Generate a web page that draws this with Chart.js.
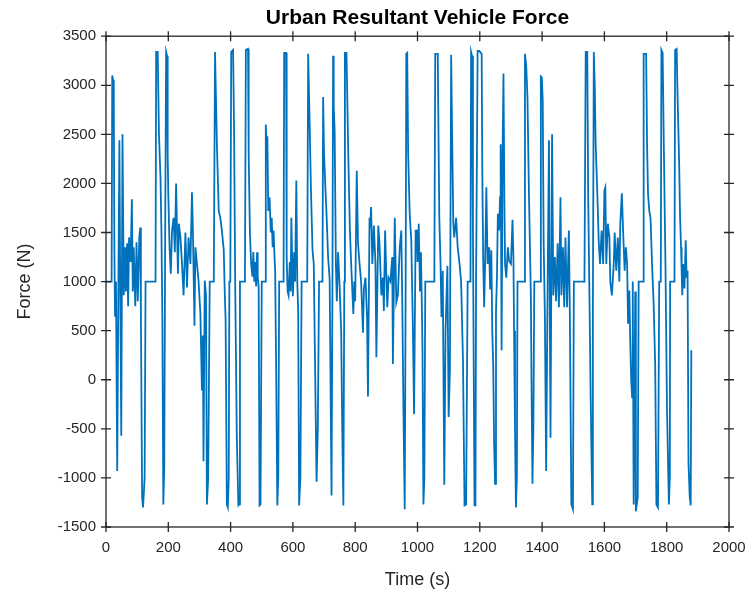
<!DOCTYPE html>
<html>
<head>
<meta charset="utf-8">
<script src="https://cdn.jsdelivr.net/npm/chart.js@4.4.1/dist/chart.umd.min.js"></script>
<style>
  html, body { margin: 0; padding: 0; background: #ffffff; }
  #wrap { width: 753px; height: 598px; }
</style>
</head>
<body>
<div id="wrap"><canvas id="forceChart" width="753" height="598"></canvas></div>
<script>
const timeValues = [
  0, 18, 20, 23, 25, 27, 29, 32, 36, 39, 43, 46, 49, 53, 57, 61, 64, 68, 71, 74,
  79, 83, 86, 89, 94, 98, 102, 107, 110, 112, 116, 119, 124, 127, 159, 161, 166, 170, 175, 178,
  181, 184, 187, 190, 193, 196, 198, 200, 204, 208, 212, 217, 221, 225, 228, 231, 234, 239, 244, 249,
  255, 260, 265, 271, 276, 279, 284, 287, 292, 297, 303, 308, 311, 313, 317, 321, 324, 328, 333, 346,
  350, 353, 356, 362, 367, 372, 378, 381, 384, 388, 391, 394, 396, 399, 402, 408, 411, 415, 420, 425,
  428, 430, 446, 449, 456, 458, 462, 466, 470, 473, 476, 479, 482, 485, 487, 490, 493, 496, 500, 511,
  513, 516, 518, 521, 525, 529, 532, 535, 538, 541, 543, 546, 550, 553, 556, 570, 572, 578, 580, 583,
  586, 590, 593, 595, 600, 604, 607, 611, 614, 617, 620, 624, 628, 646, 649, 654, 658, 663, 667, 671,
  676, 680, 684, 695, 697, 700, 705, 708, 713, 718, 724, 727, 729, 731, 734, 738, 741, 745, 750, 755,
  758, 762, 765, 767, 772, 778, 783, 788, 794, 797, 800, 805, 809, 814, 819, 825, 828, 833, 838, 841,
  846, 848, 851, 855, 860, 865, 868, 874, 878, 884, 889, 892, 896, 900, 903, 907, 913, 919, 921, 927,
  932, 937, 943, 948, 951, 955, 959, 962, 964, 967, 970, 975, 980, 985, 989, 994, 998, 1000, 1004, 1008,
  1011, 1014, 1016, 1019, 1022, 1025, 1054, 1057, 1065, 1068, 1070, 1074, 1077, 1081, 1086, 1090, 1096, 1100, 1104, 1108,
  1111, 1115, 1118, 1124, 1129, 1135, 1140, 1146, 1151, 1156, 1161, 1170, 1172, 1175, 1178, 1183, 1186, 1188, 1191, 1193,
  1198, 1206, 1208, 1211, 1214, 1217, 1221, 1225, 1230, 1233, 1237, 1240, 1243, 1246, 1249, 1252, 1255, 1258, 1262, 1265,
  1267, 1270, 1273, 1276, 1279, 1281, 1285, 1290, 1294, 1300, 1305, 1308, 1310, 1313, 1316, 1319, 1321, 1342, 1345, 1349,
  1353, 1358, 1364, 1366, 1369, 1372, 1375, 1394, 1396, 1399, 1402, 1405, 1409, 1413, 1417, 1422, 1425, 1427, 1432, 1436,
  1441, 1445, 1450, 1454, 1459, 1462, 1467, 1471, 1475, 1480, 1486, 1489, 1494, 1499, 1502, 1536, 1540, 1545, 1548, 1553,
  1556, 1561, 1563, 1566, 1569, 1572, 1577, 1582, 1586, 1591, 1596, 1600, 1603, 1606, 1611, 1616, 1619, 1624, 1630, 1633,
  1638, 1643, 1648, 1651, 1656, 1660, 1665, 1669, 1673, 1676, 1680, 1683, 1686, 1689, 1691, 1694, 1699, 1701, 1707, 1710,
  1724, 1726, 1734, 1737, 1740, 1744, 1748, 1753, 1758, 1763, 1767, 1772, 1776, 1781, 1783, 1787, 1791, 1796, 1801, 1807,
  1810, 1811, 1825, 1827, 1832, 1835, 1840, 1843, 1846, 1848, 1850, 1853, 1857, 1861, 1864, 1867, 1870, 1874, 1877, 1879
];

const forceValues = [
  1000, 1000, 3100, 3050, 2850, 1300, 650, 1000, -930, 600, 2440, 800, -570, 2500, 860, 1350, 900, 1390, 750, 1450,
  1200, 1840, 900, 1350, 750, 1400, 800, 1450, 1550, 680, -1200, -1300, -1000, 1000, 1000, 3340, 3340, 2500, 2050, 1500,
  600, -1270, -900, 1500, 3340, 3300, 2300, 1900, 1350, 1080, 1520, 1650, 1300, 2000, 1520, 1080, 1590, 1450, 1180, 860,
  1500, 940, 1450, 1180, 1910, 1520, 550, 1350, 1180, 1010, 680, -110, 450, -830, 1010, 860, -1270, -1000, 1000, 1000,
  3340, 3340, 2400, 1720, 1650, 1520, 1320, 920, 600, -1270, -1300, -1000, 1000, 1000, 3340, 3360, 2600, 900, -600, -1280,
  -1270, 1000, 1000, 3360, 3370, 2300, 1500, 1180, 1050, 1300, 1000, 1200, 950, 1300, 1050, 950, -1280, -1270, 1000, 1000,
  2600, 2300, 2480, 1720, 1860, 1500, 1650, 1350, 1520, 1250, 1110, 200, -1280, -1000, 1000, 1000, 3330, 3330, 1250, 900,
  860, 1200, 900, 1650, 850, 1300, 1000, 2030, 1000, 700, -1280, -1000, 1000, 1000, 3320, 2570, 1930, 1320, 1180, 200,
  -1040, -500, 1000, 1000, 2880, 2300, 1900, 1690, 1250, 1020, -1180, 1000, 3300, 2800, 2540, 1180, 800, 1300, 950, 500,
  -400, -1280, 1000, 3330, 3330, 2260, 1520, 1110, 670, 1000, 800, 2130, 1390, 1180, 1000, 480, 930, 1040, 640, -170,
  1650, 1550, 1760, 1180, 1570, 1180, 230, 1570, 1390, 860, 1040, 700, 1520, 1040, 740, 1040, 1000, 1250, 160, 1650,
  790, 860, 1350, 1520, 830, -350, -1320, 1000, 3320, 3330, 2300, 1690, 1420, 570, -350, 1520, 1520, 1200, 1590, 900,
  1300, 750, 300, -1270, -1000, 1000, 1000, 3320, 3320, 2300, 1650, 1180, 640, 1110, -1070, 500, 1160, -380, 100, 3310,
  2540, 1590, 1450, 1650, 1350, 1180, 1000, 200, -1280, -1270, 1000, 1000, 3340, 3300, 1500, -1280, -1280, 1000, 1000, 3350,
  3350, 3320, 2130, 1200, 740, 1180, 1960, 1180, 1350, 920, 1320, 500, 160, -650, -1060, 700, 1040, 1690, 1520, 1860,
  2400, 300, 2270, 3120, 1800, 1180, 1040, 1350, 1210, 1180, 1630, 1250, 500, -500, -1300, -1000, 1000, 1000, 3320, 3200,
  2880, 1860, 840, 0, -1060, -500, 1000, 1000, 3090, 3080, 2850, 1400, 640, -930, 700, 2440, 500, -590, 2500, 860,
  1250, 800, 1390, 740, 1860, 860, 1350, 740, 1450, 740, 1520, 680, -1270, -1320, 1000, 1000, 3340, 3340, 1860, 600,
  -200, -1270, 700, 3340, 3000, 2400, 1930, 1390, 1180, 1520, 1180, 1930, 1960, 1180, 1590, 1450, 1000, 860, 1180, 1500,
  1110, 1450, 1000, 1590, 1900, 1520, 1110, 1350, 1180, 570, 910, 400, 0, -180, 1000, -1270, 900, -1340, -1200, 1000,
  1000, 3320, 3320, 2400, 1900, 1720, 1650, 1180, 780, 160, -1270, -1300, 1000, 1000, 3360, 3330, 2330, 1180, -300, -1270,
  -1000, 1000, 1000, 3360, 3370, 2880, 2200, 1650, 1350, 1110, 860, 1180, 930, 1420, 1040, 1110, -850, -1200, -1280, 300
];

const timeTicks = [0, 200, 400, 600, 800, 1000, 1200, 1400, 1600, 1800, 2000];
const forceTicks = [-1500, -1000, -500, 0, 500, 1000, 1500, 2000, 2500, 3000, 3500];

const lineColor = "#0072BD";
const axisColor = "#262626";
const fontFamily = "'Liberation Sans', Arial, Helvetica, sans-serif";

const boxTicks = {
  id: "boxTicks",
  afterDraw(chart) {
    const { ctx, chartArea: area } = chart;
    const x = chart.scales.x;
    const y = chart.scales.y;
    const len = 5;

    ctx.save();
    ctx.strokeStyle = axisColor;
    ctx.lineWidth = 1.3;
    ctx.strokeRect(area.left, area.top, area.right - area.left, area.bottom - area.top);

    ctx.beginPath();
    timeTicks.forEach(v => {
      const px = x.getPixelForValue(v);
      ctx.moveTo(px, area.bottom + len);
      ctx.lineTo(px, area.bottom - len);
      ctx.moveTo(px, area.top - len);
      ctx.lineTo(px, area.top + len);
    });
    forceTicks.forEach(v => {
      const py = y.getPixelForValue(v);
      ctx.moveTo(area.left - len, py);
      ctx.lineTo(area.left + len, py);
      ctx.moveTo(area.right - len, py);
      ctx.lineTo(area.right + len, py);
    });
    ctx.stroke();
    ctx.restore();
  }
};

function crearGrafico() {
  const canvas = document.getElementById("forceChart");
  if (!canvas) return;

  const puntos = timeValues.map((t, i) => ({ x: t, y: forceValues[i] }));

  new Chart(canvas, {
    type: "line",
    data: {
      datasets: [{
        label: "Force",
        data: puntos,
        borderColor: lineColor,
        borderWidth: 1.8,
        pointRadius: 0,
        tension: 0,
        fill: false
      }]
    },
    options: {
      responsive: false,
      animation: false,
      layout: {
        padding: { left: 0, right: 24, top: 0, bottom: 0 }
      },
      plugins: {
        legend: { display: false },
        tooltip: { enabled: false },
        title: {
          display: true,
          fullSize: false,
          text: "Urban Resultant Vehicle Force",
          color: "#000000",
          font: { family: fontFamily, size: 21, weight: "bold" },
          padding: { top: 6, bottom: 5 }
        }
      },
      scales: {
        x: {
          type: "linear",
          min: 0,
          max: 2000,
          afterBuildTicks: scale => {
            scale.ticks = timeTicks.map(v => ({ value: v }));
          },
          afterFit: scale => {
            scale.height = 71;
            scale.paddingLeft = 0;
            scale.paddingRight = 0;
          },
          grid: { display: false, drawTicks: false },
          border: { display: false },
          ticks: {
            color: axisColor,
            padding: 12,
            maxRotation: 0,
            autoSkip: false,
            font: { family: fontFamily, size: 15 },
            callback: value => String(value)
          },
          title: {
            display: true,
            text: "Time (s)",
            color: axisColor,
            font: { family: fontFamily, size: 18 },
            padding: { top: 0, bottom: 7 }
          }
        },
        y: {
          type: "linear",
          min: -1500,
          max: 3500,
          afterBuildTicks: scale => {
            scale.ticks = forceTicks.map(v => ({ value: v }));
          },
          afterFit: scale => {
            scale.width = 106;
          },
          grid: { display: false, drawTicks: false },
          border: { display: false },
          ticks: {
            color: axisColor,
            padding: 10,
            autoSkip: false,
            font: { family: fontFamily, size: 15 },
            callback: value => String(value)
          },
          title: {
            display: true,
            text: "Force (N)",
            color: axisColor,
            font: { family: fontFamily, size: 18 },
            padding: { top: 14, bottom: 0 }
          }
        }
      }
    },
    plugins: [boxTicks]
  });
}

document.addEventListener("DOMContentLoaded", crearGrafico);
</script>
</body>
</html>
